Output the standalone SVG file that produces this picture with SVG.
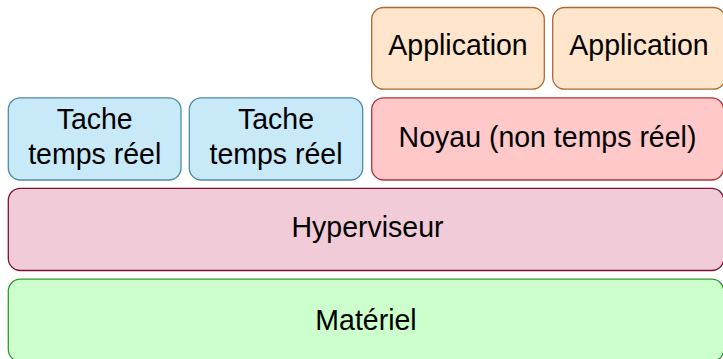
<svg xmlns="http://www.w3.org/2000/svg" width="723" height="359" viewBox="0 0 723 359">
<style>
rect{stroke-width:1.3}
text{font-family:"Liberation Sans",Arial,sans-serif;font-size:28.5px;fill:#000;text-anchor:middle}
.task{fill:#c8e9f8;stroke:#4f8ba3}
.app{fill:#ffe5cc;stroke:#a96b33}
.kern{fill:#ffc9c9;stroke:#b3333a}
.hyp{fill:#f2cbd8;stroke:#7a1236}
.hw{fill:#ccffcc;stroke:#2f9a2f}
</style>
<rect width="723" height="359" fill="#fff"/>
<g id="app1"><rect class="app" x="371.7" y="7.5" width="172.6" height="81.7" rx="12"/><text transform="translate(458,55) scale(1,1.05)">Application</text></g>
<g id="app2"><rect class="app" x="552.7" y="7.5" width="172.6" height="81.7" rx="12"/><text transform="translate(639,55) scale(1,1.05)">Application</text></g>
<g id="task1"><rect class="task" x="8.3" y="97.8" width="172.7" height="82.2" rx="12"/><text transform="translate(94.7,129.3) scale(1,1.05)">Tache</text><text transform="translate(94.7,164) scale(1,1.05)">temps réel</text></g>
<g id="task2"><rect class="task" x="189.3" y="97.8" width="173.4" height="82.2" rx="12"/><text transform="translate(276,129.3) scale(1,1.05)">Tache</text><text transform="translate(276,164) scale(1,1.05)">temps réel</text></g>
<g id="noyau"><rect class="kern" x="371.7" y="97.8" width="352" height="82.2" rx="12"/><text transform="translate(547.5,146.7) scale(1,1.05)">Noyau (non temps réel)</text></g>
<g id="hyperviseur"><rect class="hyp" x="8.3" y="188.3" width="715.5" height="82.2" rx="12"/><text transform="translate(367.5,236.7) scale(1,1.05)">Hyperviseur</text></g>
<g id="materiel"><rect class="hw" x="8.3" y="279.2" width="715.5" height="82.2" rx="12"/><text transform="translate(366,330) scale(1,1.05)">Matériel</text></g>
<g id="connectors"/>
</svg>
